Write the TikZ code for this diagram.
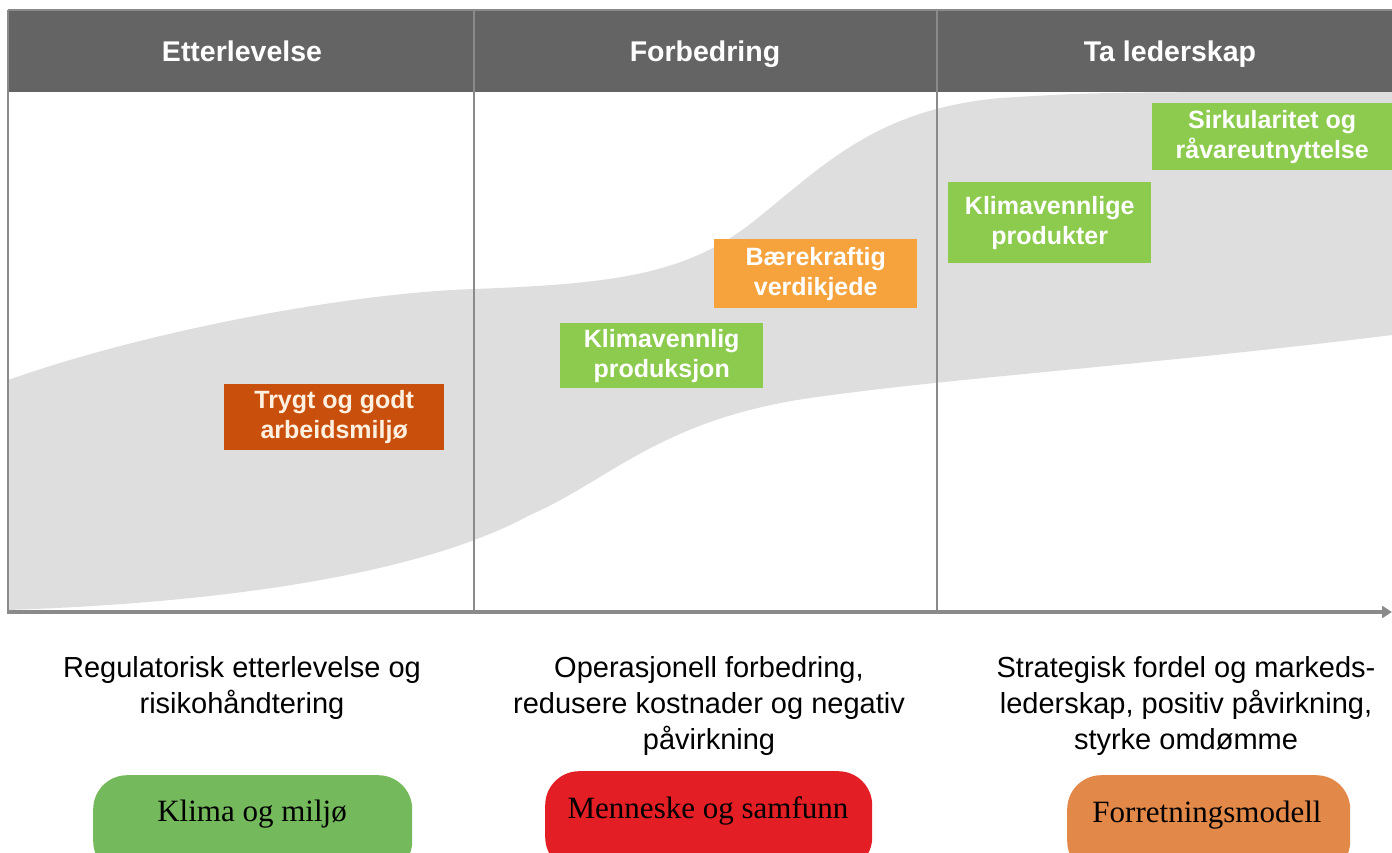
\documentclass[tikz,border=0pt]{standalone}
\usepackage{fontspec}
\setmainfont{Liberation Serif}
\setsansfont{Liberation Sans}
\usetikzlibrary{arrows.meta}
\definecolor{hdr}{HTML}{646464}
\definecolor{band}{HTML}{DEDEDE}
\definecolor{divln}{HTML}{8A8A8A}
\definecolor{rust}{HTML}{C9500C}
\definecolor{lgreen}{HTML}{8DCB4F}
\definecolor{lorange}{HTML}{F6A33E}
\definecolor{pgreen}{HTML}{75B95D}
\definecolor{pred}{HTML}{E31E25}
\definecolor{porange}{HTML}{E2894A}
\tikzset{
  hdrtext/.style={text=white,font=\sffamily\bfseries\fontsize{28.5}{32}\selectfont,anchor=base},
  tagbox/.style={anchor=north west,inner sep=0pt,align=center,font=\sffamily\bfseries\fontsize{25}{30}\selectfont,text=white},
  captext/.style={align=center,font=\sffamily\fontsize{29}{36}\selectfont,anchor=north},
  pill/.style={rounded corners=34pt,anchor=north west,inner sep=0pt},
  pilltext/.style={font=\fontsize{31}{36}\selectfont},
}
\begin{document}
\begin{tikzpicture}[x=1pt,y=-1pt]
\useasboundingbox (0,0) rectangle (1392,853);
% gray band
\fill[band] (8,380) .. controls (150,330) and (350,293) .. (474,289)
  .. controls (610,284) and (680,275) .. (745,228)
  .. controls (820,170) and (870,110) .. (1000,98)
  .. controls (1100,92) .. (1392,92) -- (1392,335)
  .. controls (1150,365) and (950,378) .. (810,398)
  .. controls (660,420) and (610,480) .. (530,515)
  .. controls (420,575) and (220,603) .. (8,610) -- cycle;
% header
\fill[hdr] (8,10) rectangle (1392,92);
\draw[line width=2pt,color=divln] (8,10) -- (1392,10);
\node[hdrtext] (h1) at (242,62) {Etterlevelse};
\node[hdrtext] (h2) at (705,62) {Forbedring};
\node[hdrtext] (h3) at (1170,62) {Ta lederskap};
% dividers
\coordinate (d0t) at (8,10);
\coordinate (d0b) at (8,612);
\coordinate (d1t) at (474,10);
\coordinate (d1b) at (474,612);
\coordinate (d2t) at (937,10);
\coordinate (d2b) at (937,612);
\draw[line width=2.5pt,color=divln] (d0t) -- (d0b);
\draw[line width=2pt,color=divln] (d1t) -- (d1b);
\draw[line width=2pt,color=divln] (d2t) -- (d2b);
% axis
\coordinate (ax0) at (7,612);
\coordinate (ax1) at (1392,612);
\draw[line width=4pt,color=divln,-{Triangle[length=10pt,width=12pt]}] (ax0) -- (ax1);
% tags
\node[tagbox,fill=rust,minimum width=220pt,minimum height=66pt,text=white!88!orange] (t1) at (224,384) {Trygt og godt\\arbeidsmiljø};
\node[tagbox,fill=lgreen,minimum width=203pt,minimum height=65pt] (t2) at (560,323) {Klimavennlig\\produksjon};
\node[tagbox,fill=lorange,minimum width=203pt,minimum height=69pt] (t3) at (714,239) {Bærekraftig\\verdikjede};
\node[tagbox,fill=lgreen,minimum width=203pt,minimum height=81pt] (t4) at (948,182) {Klimavennlige\\produkter};
\node[tagbox,fill=lgreen,minimum width=240pt,minimum height=67pt] (t5) at (1152,103) {Sirkularitet og\\råvareutnyttelse};
% captions
\node[captext] (c1) at (242,653) {Regulatorisk etterlevelse og\\risikohåndtering};
\node[captext] (c2) at (709,653) {Operasjonell forbedring,\\redusere kostnader og negativ\\påvirkning};
\node[captext] (c3) at (1186,653) {Strategisk fordel og markeds-\\lederskap, positiv påvirkning,\\styrke omdømme};
% pills
\node[pill,fill=pgreen,minimum width=319pt,minimum height=100pt] (p1) at (93,775) {};
\node[pilltext] (p1t) at (252,814) {Klima og miljø};
\node[pill,fill=pred,minimum width=327pt,minimum height=100pt] (p2) at (545,771) {};
\node[pilltext] (p2t) at (708,811) {Menneske og samfunn};
\node[pill,fill=porange,minimum width=283pt,minimum height=100pt] (p3) at (1067,775) {};
\node[pilltext] (p3t) at (1207,815) {Forretningsmodell};
\end{tikzpicture}
\end{document}
